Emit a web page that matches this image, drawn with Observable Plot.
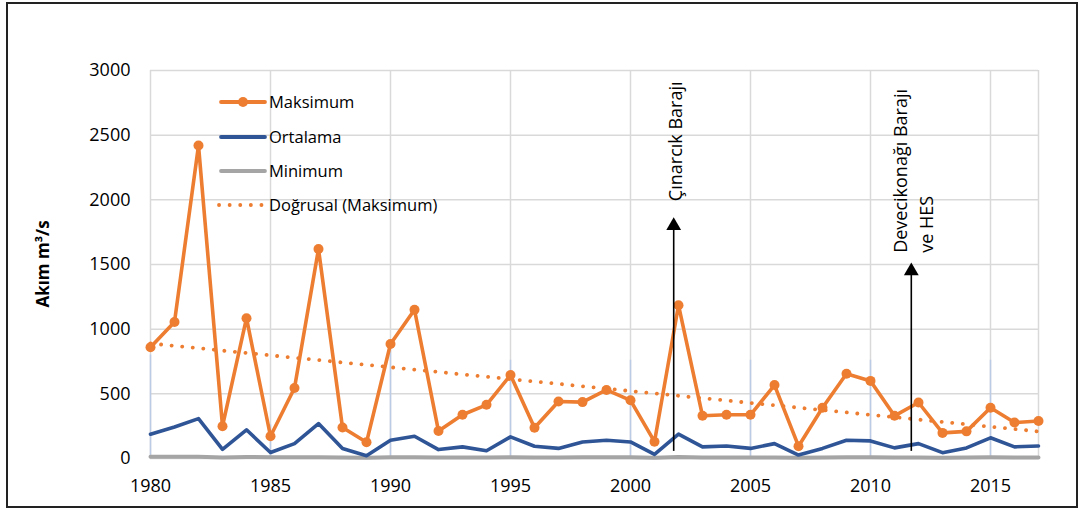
<!DOCTYPE html>
<html><head><meta charset="utf-8">
<script src="https://cdn.jsdelivr.net/npm/d3@7"></script>
<script src="https://cdn.jsdelivr.net/npm/@observablehq/plot@0.6"></script>
<style>
body{margin:0;background:#fff;font-family:"Open Sans",sans-serif;}
#frame{position:absolute;left:6px;top:2px;width:1072px;height:506px;border:2px solid #222;box-sizing:border-box;}
#chart{position:absolute;left:0;top:0;}
</style></head><body>
<div id="chart"></div><div id="frame"></div>
<script>
const years = [1980,1981,1982,1983,1984,1985,1986,1987,1988,1989,1990,1991,1992,1993,1994,1995,1996,1997,1998,1999,2000,2001,2002,2003,2004,2005,2006,2007,2008,2009,2010,2011,2012,2013,2014,2015,2016,2017];
const maksimum = [860,1055,2420,250,1085,172,545,1620,240,125,885,1150,212,338,415,645,238,441,436,530,450,130,1185,330,338,338,568,95,392,655,600,330,433,198,210,392,278,290];
const ortalama = [188,244,308,70,222,46,115,270,77,22,141,172,69,90,60,167,95,78,128,141,128,32,188,90,97,78,115,27,78,141,136,82,115,45,82,160,90,97];
const minimum = [14,14,13,8,12,9,9,10,8,6,9,9,7,8,7,10,8,8,9,9,9,6,11,8,8,7,8,5,7,9,9,7,8,6,7,9,7,8];
const yTicks = [0,500,1000,1500,2000,2500,3000];
const xTicks = [1980,1985,1990,1995,2000,2005,2010,2015];
const gridYears = [1980,1985,1990,1995,2000,2005,2010,2015,2017];
const blueYears = [1980,1985,1990,1995,2000,2005,2010,2015];
const blueTop = [800,260,850,760,760,760,760,760];
const arrowYears = [2001.8,2011.7];
const arrowFrom = [55,55];
const arrowTo = [1830,1480];
const labelY = [1990,1590];
const labels = ["Çınarcık Barajı","Devecikonağı Barajı\nve HES"];
const seriesNames = ["Maksimum","Ortalama","Minimum","Doğrusal (Maksimum)"];
const ORANGE = "#ED7D31", BLUE = "#2F5597", GRAY = "#A5A5A5";

const data = years.map((y,i)=>({year:y, max:maksimum[i], avg:ortalama[i], min:minimum[i]}));
const blue = blueYears.map((y,i)=>({year:y, top:blueTop[i]}));
const arrows = arrowYears.map((y,i)=>({year:y, from:arrowFrom[i], to:arrowTo[i], ly:labelY[i], label:labels[i]}));

const plot = Plot.plot({
  width:1083, height:509,
  marginLeft:150, marginRight:45, marginTop:70, marginBottom:51,
  style:{fontFamily:"'Open Sans', sans-serif", fontSize:"18px", color:"#000", background:"transparent"},
  x:{domain:[1980,2017], label:null},
  y:{domain:[0,3000], label:null},
  marks:[
    Plot.gridY(yTicks,{stroke:"#d9d9d9", strokeOpacity:1, strokeWidth:1.5}),
    Plot.gridX(gridYears,{stroke:"#d9d9d9", strokeOpacity:1, strokeWidth:1.5}),
    Plot.ruleX(blue,{x:"year", y1:0, y2:"top", stroke:"#b4c7e7", strokeWidth:1.5, strokeOpacity:0.8}),
    Plot.line(data,{x:"year", y:"min", stroke:GRAY, strokeWidth:4}),
    Plot.line(data,{x:"year", y:"avg", stroke:BLUE, strokeWidth:3.6, strokeLinejoin:"round"}),
    Plot.linearRegressionY(data,{x:"year", y:"max", ci:0, stroke:ORANGE, strokeWidth:3.8, strokeDasharray:"0.1 10.5", strokeLinecap:"round"}),
    Plot.line(data,{x:"year", y:"max", stroke:ORANGE, strokeWidth:3.6, strokeLinejoin:"round"}),
    Plot.dot(data,{x:"year", y:"max", fill:ORANGE, r:5}),
    Plot.ruleX(arrows,{x:"year", y1:"from", y2:"to", stroke:"#000", strokeWidth:1.6}),
    Plot.dot(arrows,{x:"year", y:"to", symbol:"triangle", fill:"#000", r:5.5, dy:4}),
    Plot.text(arrows,{x:"year", y:"ly", text:"label", rotate:-90, textAnchor:"start", fontSize:18, fill:"#000", lineHeight:1.45}),
    Plot.axisX(xTicks,{tickSize:0, tickPadding:21, tickFormat:d=>String(d), fontSize:18, label:null}),
    Plot.axisY(yTicks,{tickSize:0, tickPadding:20, tickFormat:d=>String(d), label:null, fontSize:18})
  ]
});
document.getElementById("chart").appendChild(plot);

const svg = d3.select(plot);
svg.append("text").attr("transform","translate(49,264) rotate(-90)")
  .attr("text-anchor","middle").attr("font-weight","bold").attr("font-size",17).attr("fill","#000")
  .text("Akım m³/s");

const leg = svg.append("g").attr("font-size",16).attr("fill","#000").attr("text-anchor","start");
const legY = [102,137,171,205];
const legStyles = [
  {stroke:ORANGE, dash:null, dot:true},
  {stroke:BLUE, dash:null, dot:false},
  {stroke:GRAY, dash:null, dot:false},
  {stroke:ORANGE, dash:"0.1 10.5", dot:false}
];
seriesNames.forEach((name,i)=>{
  const s = legStyles[i];
  const l = leg.append("line").attr("x1",221).attr("x2",265).attr("y1",legY[i]).attr("y2",legY[i])
    .attr("stroke",s.stroke).attr("stroke-width",3.8).attr("stroke-linecap","round");
  if (s.dash) l.attr("stroke-dasharray",s.dash).attr("x1",219);
  if (s.dot) leg.append("circle").attr("cx",243).attr("cy",legY[i]).attr("r",5).attr("fill",ORANGE);
  leg.append("text").attr("x",269).attr("y",legY[i]).attr("dy","0.35em").attr("text-anchor","start").attr("font-size",16.5).text(name);
});
</script>
</body></html>
